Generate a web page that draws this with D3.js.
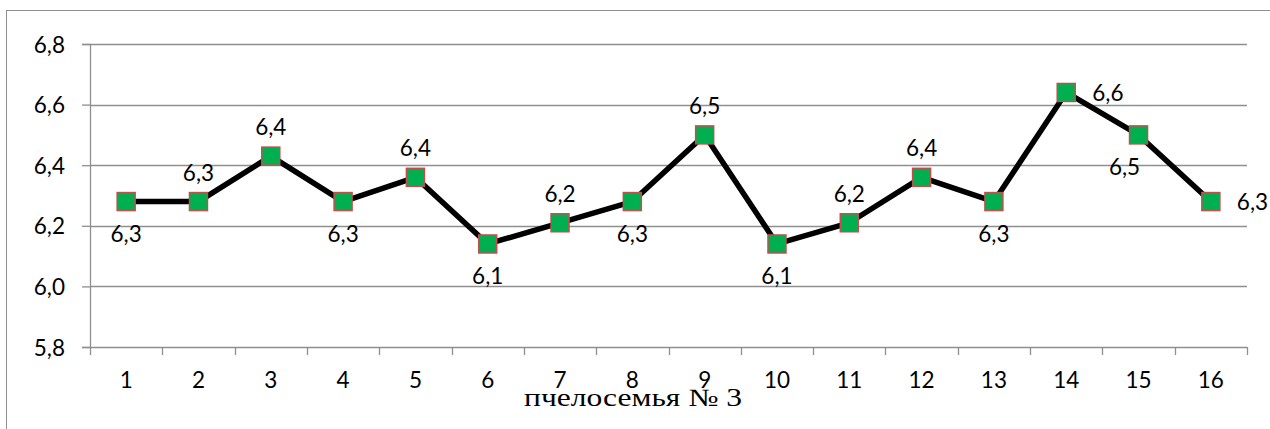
<!DOCTYPE html>
<html>
<head>
<meta charset="utf-8">
<script src="https://cdn.jsdelivr.net/npm/d3@7/dist/d3.min.js"></script>
<style>
  html, body { margin: 0; padding: 0; background: #fff; }
  svg { display: block; }
</style>
</head>
<body>
<svg id="chart" width="1270" height="429"></svg>
<script>
// Observations per colony, family № 3
const categories = ["1","2","3","4","5","6","7","8","9","10","11","12","13","14","15","16"];
const values = [6.28, 6.28, 6.43, 6.28, 6.36, 6.14, 6.21, 6.28, 6.50, 6.14, 6.21, 6.36, 6.28, 6.64, 6.50, 6.28];
const yTicks = [5.8, 6.0, 6.2, 6.4, 6.6, 6.8];
const labelSide = ["below","above","above","below","above","below","above","below","above","below","above","above","below","right","belowLeft","right"];
const axisTitle = "пчелосемья № 3";

const W = 1270, H = 429;
const plot = { left: 90, right: 1247, top: 44, bottom: 347 };
const gridColor = "#8f8f8f";
const numFont = "Lato, 'Open Sans', sans-serif";
const numSize = 22.5;

const ru = d3.formatLocale({ decimal: ",", thousands: "\u00a0", grouping: [3], currency: ["", " ₽"] });
const fmt = ru.format(".1f");

const svg = d3.select("#chart");

// outer chart frame
svg.append("rect")
  .attr("x", 6.5).attr("y", 10.5)
  .attr("width", W + 10).attr("height", H + 10)
  .attr("fill", "#fff").attr("stroke", gridColor).attr("stroke-width", 1);

const x = d3.scaleBand().domain(categories).range([plot.left, plot.right]).padding(0);
const y = d3.scaleLinear().domain([5.8, 6.8]).range([plot.bottom, plot.top]);

// y axis with tick labels
const yAxis = d3.axisLeft(y)
  .tickValues(yTicks)
  .tickFormat(fmt)
  .tickSize(8)
  .tickPadding(17);

const gy = svg.append("g")
  .attr("transform", `translate(${plot.left},0)`)
  .call(yAxis);
gy.select(".domain").attr("stroke", gridColor).attr("stroke-width", 1.3);
gy.selectAll(".tick line").attr("stroke", gridColor).attr("stroke-width", 1.3);
gy.selectAll(".tick text")
  .attr("fill", "#000")
  .attr("font-family", numFont)
  .attr("font-size", numSize)
  .attr("dy", "0.36em");

// horizontal gridlines
svg.append("g").selectAll("line")
  .data(yTicks)
  .join("line")
  .attr("x1", plot.left).attr("x2", plot.right)
  .attr("y1", d => Math.round(y(d)) + 0.5).attr("y2", d => Math.round(y(d)) + 0.5)
  .attr("stroke", gridColor).attr("stroke-width", 1.3);

// category axis: labels centred in bands, ticks on band boundaries
const xAxis = d3.axisBottom(x).tickSize(0);
const gx = svg.append("g")
  .attr("transform", `translate(0,${plot.bottom})`)
  .call(xAxis);
gx.select(".domain").remove();
gx.selectAll(".tick text")
  .attr("fill", "#000")
  .attr("font-family", numFont)
  .attr("font-size", numSize)
  .attr("y", 41)
  .attr("dy", null);

const bounds = categories.map(c => x(c)).concat([x(categories[categories.length - 1]) + x.bandwidth()]);
svg.append("g").selectAll("line")
  .data(bounds)
  .join("line")
  .attr("x1", d => Math.round(d) + 0.5).attr("x2", d => Math.round(d) + 0.5)
  .attr("y1", plot.bottom).attr("y2", plot.bottom + 8)
  .attr("stroke", gridColor).attr("stroke-width", 1.3);

// axis title
svg.append("text")
  .attr("x", 524).attr("y", 406)
  .attr("text-anchor", "start")
  .attr("font-family", "'Liberation Serif', 'Times New Roman', serif")
  .attr("font-size", 25)
  .attr("textLength", 218)
  .attr("lengthAdjust", "spacingAndGlyphs")
  .attr("fill", "#000")
  .text(axisTitle);

// series line
const pts = categories.map((c, i) => ({ c, v: values[i], side: labelSide[i] }));
const cx = d => x(d.c) + x.bandwidth() / 2;

svg.append("path")
  .datum(pts)
  .attr("fill", "none")
  .attr("stroke", "#000")
  .attr("stroke-width", 5.5)
  .attr("stroke-linejoin", "round")
  .attr("d", d3.line().x(cx).y(d => y(d.v)));

// square markers
const ms = 18;
svg.append("g").selectAll("rect")
  .data(pts)
  .join("rect")
  .attr("x", d => cx(d) - ms / 2)
  .attr("y", d => y(d.v) - ms / 2)
  .attr("width", ms).attr("height", ms)
  .attr("fill", "#00b050")
  .attr("stroke", "#c0504d")
  .attr("stroke-width", 1.5);

// value labels
svg.append("g").selectAll("text")
  .data(pts)
  .join("text")
  .attr("font-family", numFont)
  .attr("font-size", numSize)
  .attr("fill", "#000")
  .attr("text-anchor", d => d.side === "right" ? "start" : "middle")
  .attr("x", d => {
    if (d.side === "right") return cx(d) + 26;
    if (d.side === "belowLeft") return cx(d) - 14;
    return cx(d);
  })
  .attr("y", d => {
    const py = y(d.v);
    if (d.side === "above") return py - 29;
    if (d.side === "below" || d.side === "belowLeft") return py + 32;
    return py;
  })
  .attr("dy", "0.36em")
  .text(d => fmt(d.v));
</script>
</body>
</html>
